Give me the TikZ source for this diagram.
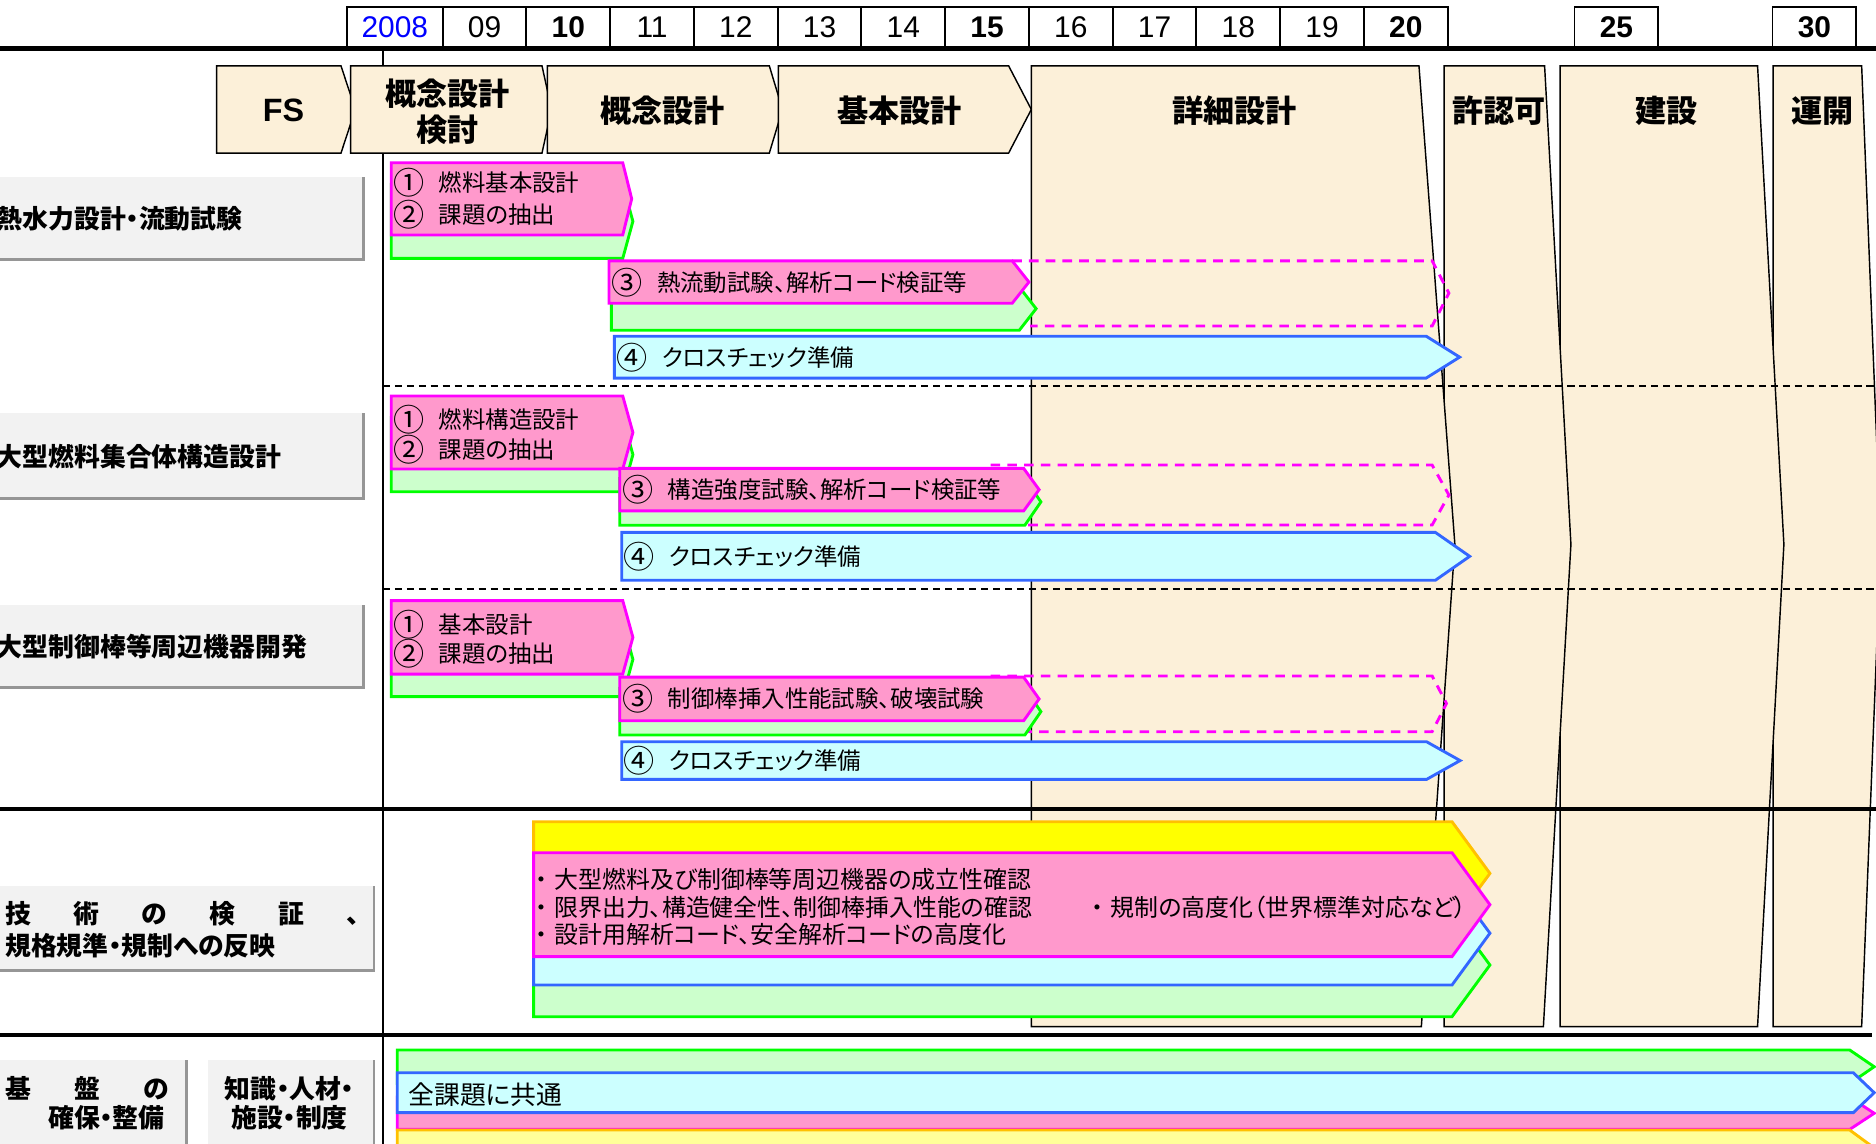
\documentclass[tikz,border=0pt]{standalone}
\usepackage{fontspec}
\setmainfont{Noto Sans CJK JP}[RawFeature=+palt]
\newfontfamily\arialfont{Liberation Sans}
\usepackage{tikz}
\usetikzlibrary{calc,positioning}

\definecolor{pinkfill}{RGB}{255,153,204}
\definecolor{magentaline}{RGB}{255,0,255}
\definecolor{greenfill}{RGB}{204,255,204}
\definecolor{greenline}{RGB}{0,255,0}
\definecolor{cyanfill}{RGB}{204,255,255}
\definecolor{blueline}{RGB}{51,102,255}
\definecolor{yellowfill}{RGB}{255,255,0}
\definecolor{orangeline}{RGB}{255,192,0}
\definecolor{paleyellow}{RGB}{255,255,153}
\definecolor{beige}{RGB}{252,240,217}
\definecolor{labelgray}{RGB}{242,242,242}
\definecolor{shadowgray}{RGB}{150,150,150}
\definecolor{yearblue}{RGB}{0,0,255}

% left, top, right corner, tip, bottom
\newcommand{\chevbar}[6]{%
  \draw[#1] (#2,#3) -- (#4,#3) -- (#5,{(#3+#6)/2}) -- (#4,#6) -- (#2,#6) -- cycle;}
% circled step number
\newcommand{\cnum}[1]{\raisebox{-1.2pt}{\fontsize{13}{13}\selectfont #1}\hspace{0.6em}}

\begin{document}
\begin{tikzpicture}[x=0.5pt,y=-0.5pt]
    \useasboundingbox (0,0) rectangle (1568,956);
    \clip (0,0) rectangle (1568,956);

      \tikzstyle{ybox} = [draw=black, line width=0.8pt, fill=white, minimum width=35pt, minimum height=16.7pt, inner sep=0pt, font=\arialfont\fontsize{12.5}{14}\selectfont]
      \tikzstyle{phase} = [draw=black, fill=beige, line width=0.6pt]
      \tikzstyle{ptext} = [align=center, inner sep=0pt, font=\fontsize{13}{15.3}\selectfont\bfseries]
      \tikzstyle{lbox} = [fill=labelgray]
      \tikzstyle{lshade} = [draw=shadowgray, line width=1.2pt]
      \tikzstyle{ltext} = [anchor=west, inner sep=0pt, font=\fontsize{10.8}{13}\selectfont\bfseries]
      \tikzstyle{btext} = [anchor=west, inner sep=0pt, font=\fontsize{9.8}{11}\selectfont]
      \tikzstyle{pinkbar} = [draw=magentaline, fill=pinkfill, line width=1.2pt]
      \tikzstyle{greenbar} = [draw=greenline, fill=greenfill, line width=1.2pt]
      \tikzstyle{cyanbar} = [draw=blueline, fill=cyanfill, line width=1.2pt]
      \tikzstyle{yellowbar} = [draw=orangeline, fill=yellowfill, line width=1.2pt]
      \tikzstyle{paleybar} = [draw=orangeline, fill=paleyellow, line width=1.2pt]
      \tikzstyle{planline} = [draw=magentaline, line width=1.2pt, dash pattern=on 4pt off 3pt]
      \tikzstyle{rowline} = [line width=0.8pt, dash pattern=on 3pt off 2pt]

      % years
      \node[ybox, minimum width=40pt, text=yearblue] (yr08) at (330,22.8) {2008};
      \node[ybox] (yr09) at (405,22.8) {09};
      \node[ybox] (yr10) at (475,22.8) {\bfseries 10};
      \node[ybox] (yr11) at (545,22.8) {11};
      \node[ybox] (yr12) at (615,22.8) {12};
      \node[ybox] (yr13) at (685,22.8) {13};
      \node[ybox] (yr14) at (755,22.8) {14};
      \node[ybox] (yr15) at (825,22.8) {\bfseries 15};
      \node[ybox] (yr16) at (895,22.8) {16};
      \node[ybox] (yr17) at (965,22.8) {17};
      \node[ybox] (yr18) at (1035,22.8) {18};
      \node[ybox] (yr19) at (1105,22.8) {19};
      \node[ybox] (yr20) at (1175,22.8) {\bfseries 20};
      \node[ybox] (yr25) at (1351,22.8) {\bfseries 25};
      \node[ybox] (yr30) at (1516.5,22.8) {\bfseries 30};

      \draw[line width=1.8pt] (0,40.5) -- (1568,40.5);
      \draw[line width=1pt] (320,40) -- (320,956);

      % phases
      \draw[phase] (181,55) -- (285,55) -- (297,91.5) -- (285,128) -- (181,128) -- cycle;
      \draw[phase] (293,55) -- (453,55) -- (461,91.5) -- (453,128) -- (293,128) -- cycle;
      \draw[phase] (457.5,55) -- (643,55) -- (654,91.5) -- (643,128) -- (457.5,128) -- cycle;
      \draw[phase] (650.5,55) -- (843,55) -- (862,91.5) -- (843,128) -- (650.5,128) -- cycle;
      \draw[phase] (1482,55) -- (1556,55) -- (1572,455) -- (1556,858) -- (1482,858) -- cycle;
      \draw[phase] (1304,55) -- (1469,55) -- (1491,455) -- (1469,858) -- (1304,858) -- cycle;
      \draw[phase] (1207,55) -- (1291,55) -- (1313,455) -- (1290,858) -- (1207,858) -- cycle;
      \draw[phase] (862,55) -- (1186,55) -- (1216,455) -- (1188,858) -- (862,858) -- cycle;

      \node[ptext, font=\arialfont\fontsize{13.5}{15}\selectfont\bfseries] (ph1) at (237,92) {FS};
      \node[ptext] (ph2) at (374,93.4) {概念設計\\検討};
      \node[ptext] (ph3) at (554,92.5) {概念設計};
      \node[ptext] (ph4) at (752,92.5) {基本設計};
      \node[ptext] (ph5) at (1032,92.5) {詳細設計};
      \node[ptext] (ph6) at (1253,92.5) {許認可};
      \node[ptext] (ph7) at (1393,92.5) {建設};
      \node[ptext] (ph8) at (1523,92.5) {運開};

      % row separators
      \draw[rowline] (320,323) -- (1568,323);
      \draw[rowline] (320,492.5) -- (1568,492.5);
      \draw[line width=1.8pt] (0,676) -- (1568,676);
      \draw[line width=1.8pt] (0,865) -- (1565,865);

      % labels
      \fill[lbox] (-5,148) rectangle (304,217);
      \draw[lshade] (-5,217) -- (304,217) -- (304,148);
      \node[ltext] (lb1) at (-3,183) {熱水力設計・流動試験};

      \fill[lbox] (-5,345.5) rectangle (304,416.5);
      \draw[lshade] (-5,416.5) -- (304,416.5) -- (304,345.5);
      \node[ltext] (lb2) at (-3,381.5) {大型燃料集合体構造設計};

      \fill[lbox] (-5,505.7) rectangle (304,574.8);
      \draw[lshade] (-5,574.8) -- (304,574.8) -- (304,505.7);
      \node[ltext] (lb3) at (-3,540.5) {大型制御棒等周辺機器開発};

      \fill[lbox] (-5,740.6) rectangle (312.6,810.8);
      \draw[lshade] (-5,810.8) -- (312.6,810.8) -- (312.6,740.6);
      \node[ltext] (lb4a) at (4,763.4) {\makebox[148pt][s]{技 術 の 検 証 、}};
      \node[ltext] (lb4b) at (4,790) {規格規準・規制への反映};

      \fill[lbox] (-5,886) rectangle (156,960);
      \draw[lshade] (156,886) -- (156,960);
      \node[ltext] (lb5a) at (4,909.6) {\makebox[68.5pt][s]{基 盤 の}};
      \node[ltext, anchor=east] (lb5b) at (138,934.6) {確保・整備};

      \fill[lbox] (174,886) rectangle (312.6,960);
      \draw[lshade] (312.6,886) -- (312.6,960);
      \node[ltext, anchor=center] (lb6a) at (242,909.6) {知識・人材・};
      \node[ltext, anchor=center] (lb6b) at (242,934.6) {施設・制度};

      % row 1
      \chevbar{greenbar}{327}{154}{520.5}{529}{216}
      \chevbar{pinkbar}{327}{136}{520.5}{528}{196.4}
      \node[btext] (t11) at (328.5,153) {\cnum{①}燃料基本設計};
      \node[btext] (t12) at (328.5,179.7) {\cnum{②}課題の抽出};
      \draw[planline] (846,218) -- (1197,218) -- (1211,245) -- (1197,272.5) -- (861,272.5);
      \chevbar{greenbar}{511}{240}{852}{866}{276}
      \chevbar{pinkbar}{509}{218}{846}{860}{253.5}
      \node[btext] (t13) at (511,236.5) {\cnum{③}熱流動試験、解析コード検証等};
      \chevbar{cyanbar}{513.5}{281}{1192}{1220}{316}
      \node[btext] (t14) at (515,298.7) {\cnum{④}クロスチェック準備};

      % row 2
      \chevbar{greenbar}{327}{349}{520.5}{529}{411}
      \chevbar{pinkbar}{327}{331}{520.5}{529}{392}
      \node[btext] (t21) at (328.5,350.5) {\cnum{①}燃料構造設計};
      \node[btext] (t22) at (328.5,375.6) {\cnum{②}課題の抽出};
      \draw[planline] (828,388.7) -- (1197,388.7) -- (1211,413.7) -- (1197,438.8) -- (859,438.8);
      \chevbar{greenbar}{518}{400}{856.6}{870}{439}
      \chevbar{pinkbar}{518}{391.5}{855.6}{868.5}{427}
      \node[btext] (t23) at (520,409.3) {\cnum{③}構造強度試験、解析コード検証等};
      \chevbar{cyanbar}{519.7}{445}{1199.7}{1228.4}{485}
      \node[btext] (t24) at (521,465) {\cnum{④}クロスチェック準備};

      % row 3
      \chevbar{greenbar}{327}{520}{520.5}{529}{582.3}
      \chevbar{pinkbar}{327}{502}{520.5}{529}{563.4}
      \node[btext] (t31) at (328.5,522.4) {\cnum{①}基本設計};
      \node[btext] (t32) at (328.5,546) {\cnum{②}課題の抽出};
      \draw[planline] (828,565) -- (1197,565) -- (1209,588) -- (1197,611.6) -- (859,611.6);
      \chevbar{greenbar}{518}{575.3}{856.6}{870}{614.3}
      \chevbar{pinkbar}{518}{566}{855.6}{868.5}{602.4}
      \node[btext] (t33) at (520,584.2) {\cnum{③}制御棒挿入性能試験、破壊試験};
      \chevbar{cyanbar}{519.7}{620}{1192.4}{1220.4}{651.4}
      \node[btext] (t34) at (521,635.7) {\cnum{④}クロスチェック準備};

      % verification
      \chevbar{greenbar}{446}{763.4}{1213.6}{1245.3}{849.8}
      \chevbar{cyanbar}{446}{736.7}{1213.6}{1245.3}{823.3}
      \chevbar{yellowbar}{446}{686.8}{1213.6}{1245.3}{773.2}
      \chevbar{pinkbar}{446}{712.7}{1213.6}{1245.3}{799.6}
      \node[btext, font=\fontsize{10}{12}\selectfont] (t41) at (447,735) {・\hspace{0.3em}大型燃料及び制御棒等周辺機器の成立性確認};
      \node[btext, font=\fontsize{10}{12}\selectfont] (t42) at (447,758.6) {・\hspace{0.3em}限界出力、構造健全性、制御棒挿入性能の確認};
      \node[btext, font=\fontsize{10}{12}\selectfont] (t43) at (447,781) {・\hspace{0.3em}設計用解析コード、安全解析コードの高度化};
      \node[btext, font=\fontsize{10}{12}\selectfont] (t44) at (912,758.6) {・\hspace{0.3em}規制の高度化（世界標準対応など）};

      % base
      \chevbar{greenbar}{332}{877.6}{1546}{1566.5}{905.6}
      \chevbar{pinkbar}{332}{917}{1546}{1566.5}{944}
      \chevbar{paleybar}{332}{944.5}{1546}{1566.5}{974.5}
      \chevbar{cyanbar}{332}{896.6}{1549}{1566.5}{930}
      \node[btext, font=\fontsize{10.8}{13}\selectfont] (t51) at (341,915) {全課題に共通};

\end{tikzpicture}
\end{document}
